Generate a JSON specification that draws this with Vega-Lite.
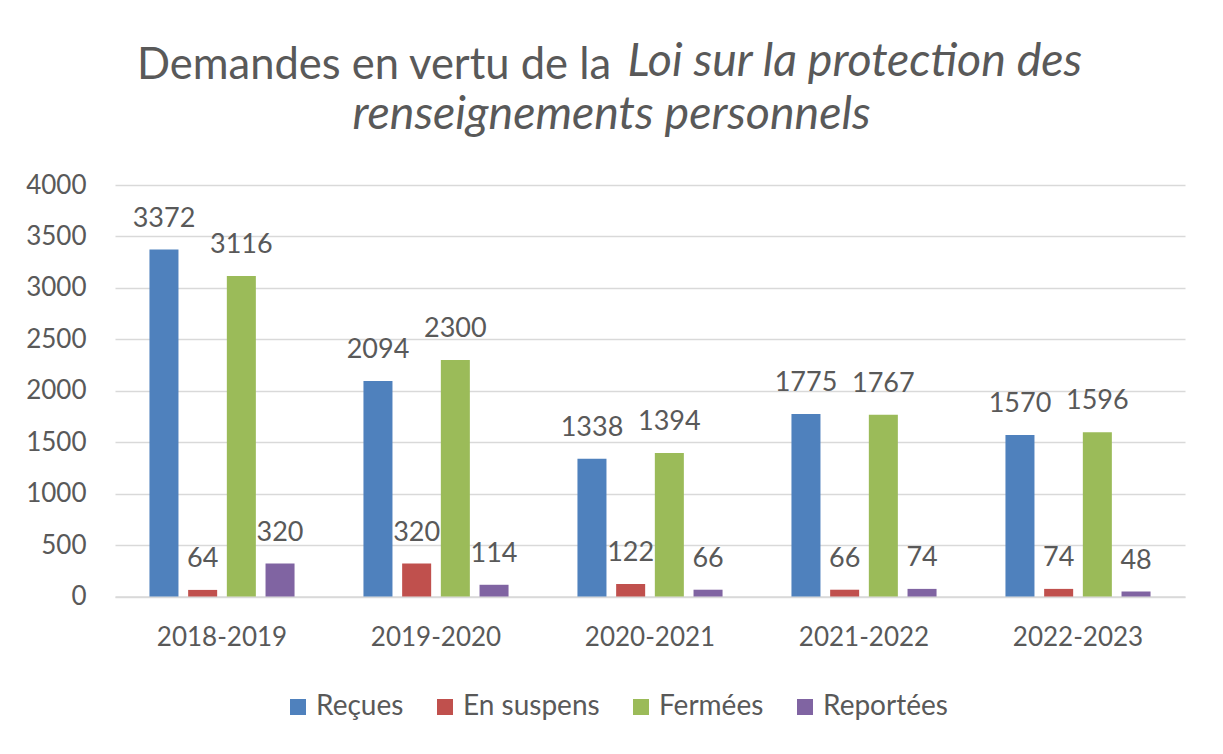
{
  "$schema": "https://vega.github.io/schema/vega-lite/v6.json",
  "width": 1070,
  "height": 411.5,
  "autosize": {"type": "none"},
  "padding": {"left": 115, "top": 185, "right": 38, "bottom": 157.5},
  "background": "white",
  "title": {
    "text": "Demandes en vertu de la",
    "anchor": "start",
    "frame": "group",
    "dx": 22,
    "dy": 88,
    "baseline": "alphabetic",
    "font": "Lato",
    "fontSize": 43.5,
    "fontWeight": "normal",
    "color": "#595959"
  },
  "data": {
    "values": [
      {"annee": "2018-2019", "statut": "Reçues", "valeur": 3372},
      {"annee": "2018-2019", "statut": "En suspens", "valeur": 64},
      {"annee": "2018-2019", "statut": "Fermées", "valeur": 3116},
      {"annee": "2018-2019", "statut": "Reportées", "valeur": 320},
      {"annee": "2019-2020", "statut": "Reçues", "valeur": 2094},
      {"annee": "2019-2020", "statut": "En suspens", "valeur": 320},
      {"annee": "2019-2020", "statut": "Fermées", "valeur": 2300},
      {"annee": "2019-2020", "statut": "Reportées", "valeur": 114},
      {"annee": "2020-2021", "statut": "Reçues", "valeur": 1338},
      {"annee": "2020-2021", "statut": "En suspens", "valeur": 122},
      {"annee": "2020-2021", "statut": "Fermées", "valeur": 1394},
      {"annee": "2020-2021", "statut": "Reportées", "valeur": 66},
      {"annee": "2021-2022", "statut": "Reçues", "valeur": 1775},
      {"annee": "2021-2022", "statut": "En suspens", "valeur": 66},
      {"annee": "2021-2022", "statut": "Fermées", "valeur": 1767},
      {"annee": "2021-2022", "statut": "Reportées", "valeur": 74},
      {"annee": "2022-2023", "statut": "Reçues", "valeur": 1570},
      {"annee": "2022-2023", "statut": "En suspens", "valeur": 74},
      {"annee": "2022-2023", "statut": "Fermées", "valeur": 1596},
      {"annee": "2022-2023", "statut": "Reportées", "valeur": 48}
    ]
  },
  "encoding": {
    "x": {
      "field": "annee",
      "type": "nominal",
      "sort": null,
      "scale": {"paddingInner": 0.322, "paddingOuter": 0.161},
      "axis": {
        "labelAngle": 0,
        "labelPadding": 28,
        "ticks": false,
        "domainColor": "#d9d9d9",
        "domainWidth": 1.5,
        "labelFont": "Lato",
        "labelFontSize": 26,
        "labelColor": "#595959",
        "title": "renseignements personnels",
        "titleX": 496,
        "titleY": -468.5,
        "titleAlign": "center",
        "titleBaseline": "alphabetic",
        "titleFont": "Lato",
        "titleFontStyle": "italic",
        "titleFontSize": 46.5,
        "titleFontWeight": "normal",
        "titleColor": "#595959"
      }
    },
    "xOffset": {
      "field": "statut",
      "type": "nominal",
      "sort": ["Reçues", "En suspens", "Fermées", "Reportées"],
      "scale": {"paddingInner": 0.25, "paddingOuter": 0}
    },
    "y": {
      "field": "valeur",
      "type": "quantitative",
      "scale": {"domain": [0, 4000], "nice": false},
      "axis": {
        "values": [0, 500, 1000, 1500, 2000, 2500, 3000, 3500, 4000],
        "format": "d",
        "domain": false,
        "ticks": false,
        "labelPadding": 29,
        "labelFont": "Lato",
        "labelFontSize": 26,
        "labelColor": "#595959",
        "gridColor": "#d9d9d9",
        "gridWidth": 1.5,
        "title": "Loi sur la protection des",
        "titleAngle": 0,
        "titleX": 512,
        "titleY": -110,
        "titleAlign": "left",
        "titleBaseline": "alphabetic",
        "titleFont": "Lato",
        "titleFontStyle": "italic",
        "titleFontSize": 46.5,
        "titleFontWeight": "normal",
        "titleColor": "#595959"
      }
    }
  },
  "layer": [
    {
      "mark": {"type": "bar"},
      "encoding": {
        "color": {
          "field": "statut",
          "type": "nominal",
          "sort": ["Reçues", "En suspens", "Fermées", "Reportées"],
          "scale": {
            "domain": ["Reçues", "En suspens", "Fermées", "Reportées"],
            "range": ["#4f81bd", "#c0504d", "#9bbb59", "#8064a2"]
          },
          "legend": {
            "title": null,
            "orient": "none",
            "direction": "horizontal",
            "legendX": 169,
            "legendY": 508,
            "padding": 0,
            "symbolType": "square",
            "symbolSize": 256,
            "symbolStrokeWidth": 0,
            "symbolOpacity": 1,
            "labelFont": "Lato",
            "labelFontSize": 28,
            "labelColor": "#595959",
            "labelOffset": 4,
            "columnPadding": 27
          }
        }
      }
    },
    {
      "mark": {
        "type": "text",
        "baseline": "alphabetic",
        "dy": -23,
        "font": "Lato",
        "fontSize": 27,
        "color": "#595959"
      },
      "encoding": {
        "text": {"field": "valeur", "type": "quantitative"}
      }
    }
  ],
  "config": {
    "view": {"stroke": null}
  }
}
